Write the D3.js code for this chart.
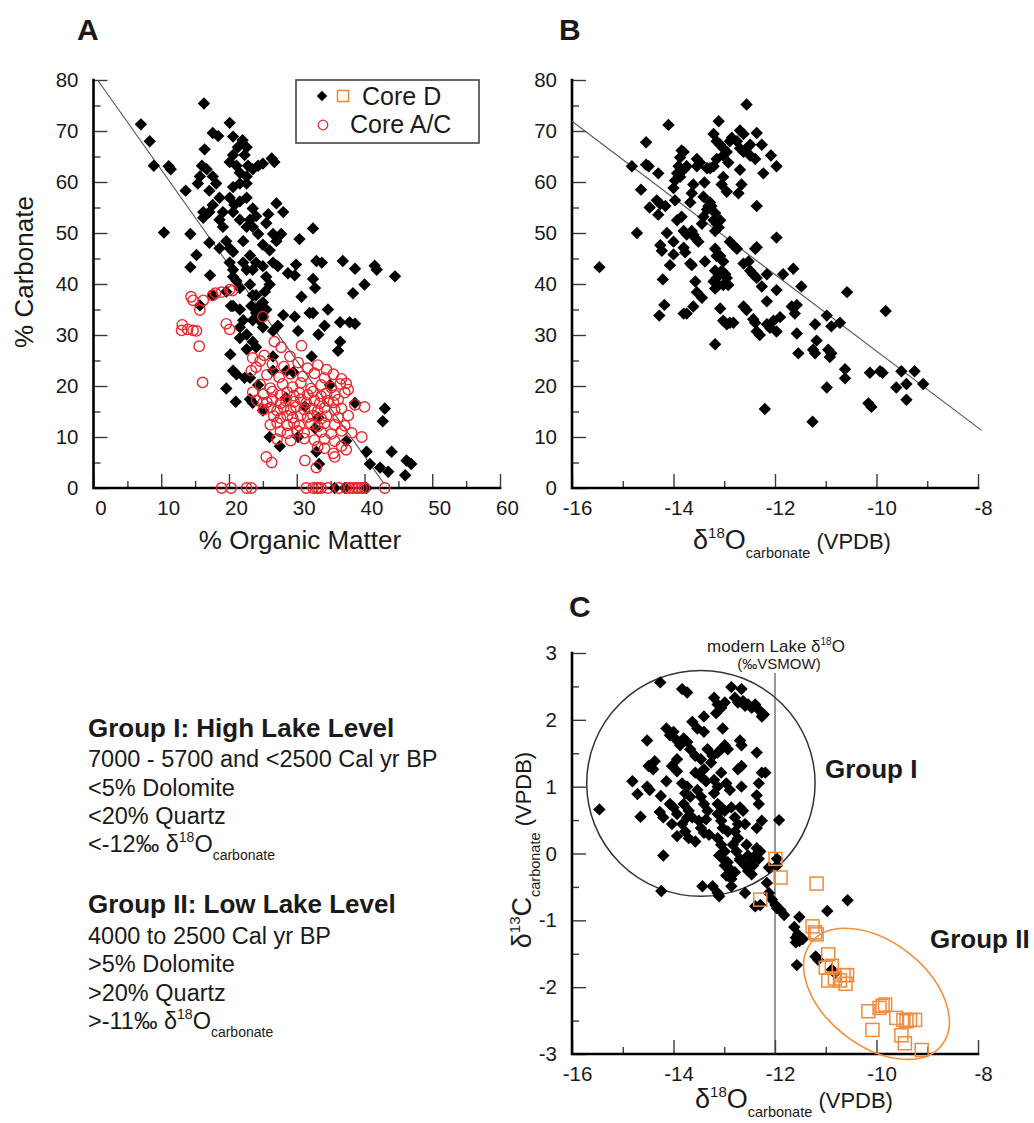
<!DOCTYPE html>
<html>
<head>
<meta charset="utf-8">
<script src="https://cdn.jsdelivr.net/npm/d3@7"></script>
<style>
  body { margin: 0; background: #fff; }
  svg { display: block; }
  text { font-family: "Liberation Sans", Arial, Helvetica, sans-serif; fill: #1a1a1a; }
</style>
</head>
<body>
<svg id="fig" width="1034" height="1123"></svg>
<script>

// ---- data: panel A (% organic matter vs % carbonate) ----
var aCoreD = [
  [7.0,71.3],[8.3,68.0],[8.9,63.2],[16.3,75.4],[11.1,63.1],[11.4,62.5],[13.6,58.3],[10.4,50.1],[14.3,49.8],[15.2,45.7],[14.3,43.3],[15.7,35.8],[17.2,41.7],[17.6,37.8],
  [16.0,63.2],[15.7,61.1],[15.4,59.7],[17.6,69.6],[18.4,69.0],[20.1,71.6],[16.4,66.4],
  [16.7,62.5],[17.6,61.1],[18.1,59.7],[17.1,58.3],[16.2,54.1],[16.2,53.0],[17.1,54.1],
  [18.6,56.9],[19.1,54.1],[19.1,51.2],[19.6,48.4],[17.1,48.1],[18.6,47.0],[20.1,47.0],[20.6,46.3],[20.1,44.2],
  [20.6,42.8],[21.1,40.6],[21.6,39.2],[20.6,41.4],[20.6,35.7],[21.6,35.0],[21.6,31.5],[22.6,30.1],[21.6,29.4],
  [20.2,26.2],[20.6,23.0],[21.1,22.3],[19.6,19.5],[23.1,21.6],[22.6,27.2],[23.5,28.7],[24.0,27.6],[25.0,31.5],
  [24.5,35.7],[25.0,36.4],[24.0,37.8],[23.1,17.4],[23.5,16.7],[24.3,20.2],[25.0,15.2],[26.5,25.8],[26.5,23.0],
  [26.0,10.0],[27.5,8.2],[28.4,17.7],[29.5,22.7],[30.2,10.0],[31.2,16.0],[32.2,25.8],[32.7,11.7],[33.2,13.8],
  [32.9,7.1],[33.3,4.7],[34.9,20.2],[35.6,0],[37.1,0],[37.3,9.2],[38.6,16.7],[40.3,7.1],[40.8,4.7],[42.3,4.0],[43.5,3.2],
  [40.3,0],[42.7,13.1],[43.0,15.6],[44.0,7.1],[46.0,2.5],[46.2,5.4],[46.9,4.7],
  [44.5,41.5],[41.5,43.6],[41.8,42.8],[40.0,39.9],[38.6,43.0],[36.8,44.5],[38.3,38.2],[37.8,32.5],[38.6,32.2],[36.4,32.5],
  [36.4,28.7],[36.1,26.9],[34.6,35.0],[34.1,31.8],[33.2,30.1],[32.4,34.3],[31.9,34.3],[32.7,39.2],[32.4,41.0],[32.9,44.5],
  [33.7,44.2],[32.4,50.9],[30.4,48.8],[29.9,43.8],[29.7,41.7],[28.7,42.1],[30.7,37.5],[30.2,30.8],[29.7,33.6],[28.0,33.9],
  [27.2,31.8],[25.5,35.0],
  [20.6,68.9],[21.3,66.8],[22.0,68.2],[22.6,66.8],[22.3,65.3],[20.6,65.3],[20.1,63.9],[21.1,63.2],[21.6,61.8],
  [22.8,63.2],[23.5,62.5],[24.3,63.2],[25.0,63.6],[26.3,64.6],[26.7,63.9],[22.6,61.1],[22.6,59.7],[20.6,59.0],[21.6,59.7],
  [20.1,56.9],[20.8,55.5],[21.6,56.2],[22.6,56.9],[23.5,54.8],[23.1,52.6],[24.0,53.3],[25.8,53.7],[25.5,51.9],
  [27.0,55.8],[28.0,54.1],[26.5,49.8],[27.0,48.4],[27.7,49.8],[25.0,47.7],[26.0,46.6],[24.3,49.8],[23.5,51.2],
  [23.1,45.6],[24.0,44.2],[23.5,42.8],[25.0,43.5],[25.5,41.4],[26.0,39.9],[25.3,38.5],[26.5,44.2],[27.2,43.5],
  [22.6,51.2],[22.1,48.4],[21.6,52.6],[20.6,54.1],[18.6,52.6],[17.6,55.5],[23.1,39.9],[23.5,37.8],[22.1,44.2],[22.6,42.8],
  [23.3,35.7],[24.0,34.3],[24.5,32.9],[22.1,32.9],[23.5,32.9],[25.0,33.6],[26.5,30.8],[19.6,38.5],[20.3,35.7],
  [22.3,21.6],[21.0,16.9],[28.5,23.0]
];

var aCoreAC = [
  [14.4,37.5],[14.7,36.8],[16.2,36.8],[18.0,38.2],[18.9,38.4],[20.1,38.9],[20.5,38.7],[13.1,32.0],[13.0,30.9],[13.9,31.1],
  [14.7,30.9],[15.2,30.8],[15.7,34.9],[15.6,27.8],[16.1,20.7],[19.6,32.2],[20.1,31.1],[17.6,37.8],
  [23.5,25.5],[24.0,23.7],[25.0,33.6],[26.7,28.7],[27.7,27.6],[30.7,27.9],[29.0,25.8],[25.5,6.1],[26.3,5.0],[31.2,5.4],
  [32.9,4.0],[37.3,7.5],[35.6,6.1],[35.4,6.8],[38.6,16.3],[40.0,15.9],[37.3,20.5],[39.6,10.0],[25.2,26.0],[24.6,24.9],
  [18.9,0],[20.3,0],[22.6,0],[23.3,0],[31.4,0],[32.4,0],[32.9,0],[33.2,0],[33.6,0],[34.6,0],[36.2,0],[37.3,0],[37.8,0],
  [38.3,0],[38.8,0],[39.1,0],[39.6,0],[40.0,0],[43.0,0],
  [23.3,23.0],[23.5,18.8],[25.0,16.7],
  [26.4,24.3],[28.1,23.8],[30.2,24.6],[31.6,23.5],[33.1,24.1],[34.4,23.2],
  [25.6,22.2],[27.4,21.7],[29.1,22.4],[30.9,21.9],[32.6,22.5],[34.1,21.6],[35.4,22.3],[36.6,21.4],
  [24.6,20.3],[26.1,19.6],[27.9,20.4],[29.4,19.8],[30.6,20.6],[32.1,19.5],[33.6,20.2],[35.1,19.7],[36.4,20.4],[37.6,19.3],
  [25.1,18.4],[26.4,18.9],[27.6,18.2],[28.6,18.8],[29.6,18.1],[30.4,18.7],[31.6,18.3],[32.4,18.9],[33.6,18.0],[34.4,18.6],[35.6,18.2],[37.1,18.7],
  [24.1,17.2],[25.6,16.8],[26.4,17.3],[27.6,16.6],[28.4,17.1],[29.6,16.9],[30.6,17.4],[31.4,16.7],[32.6,17.2],[33.4,16.6],[34.6,17.1],[35.4,16.8],[36.1,17.3],
  [25.1,15.4],[26.1,15.8],[27.1,15.2],[28.1,15.7],[29.1,15.3],[29.9,15.9],[31.1,15.4],[32.1,15.6],[33.1,15.1],[34.1,15.7],[35.6,15.3],[36.6,15.6],
  [26.6,14.1],[27.6,13.7],[28.6,14.2],[29.4,13.8],[30.6,14.3],[31.6,13.9],[32.4,14.2],[33.6,13.6],[34.4,14.1],[36.1,13.8],[37.6,14.2],
  [26.1,12.4],[27.1,12.8],[28.6,12.3],[29.6,12.7],[30.4,12.2],[32.1,12.6],[33.1,12.1],[34.1,12.7],[35.6,12.4],[37.1,12.2],
  [27.6,11.1],[28.6,10.7],[30.1,11.2],[31.1,10.8],[33.6,11.0],[35.1,10.6],[36.6,11.2],[38.1,10.8],
  [27.1,9.6],[29.1,9.3],[31.1,9.7],[32.6,9.4],[34.1,9.6],[35.6,9.2],
  [33.1,8.1],[34.1,7.8],[36.6,8.2]
];
var aFitLine = [[0.6, 80.0], [42.8, 1.0]];

// ---- data: panel B (d18O vs % carbonate) ----
var bCoreD = [
  [-15.46,43.3],[-14.82,63.1],[-14.64,58.5],[-14.72,50.0],[-14.54,67.8],[-14.54,63.4],[-14.49,63.1],[-14.47,55.0],[-14.33,56.4],
  [-14.26,55.7],[-14.16,55.3],[-14.30,61.7],[-14.10,71.2],[-14.30,53.6],[-14.26,47.6],[-14.23,46.5],[-14.21,40.9],[-14.18,35.9],
  [-14.28,33.8],[-14.07,43.7],[-14.00,48.3],[-14.00,45.8],[-13.93,52.5],
  [-14.00,58.8],[-13.97,60.3],[-13.93,61.7],[-13.90,63.1],[-13.87,64.8],[-13.84,66.2],[-13.80,65.9],[-13.87,61.0],[-13.80,62.4],
  [-13.74,63.1],[-13.84,53.2],[-13.80,50.4],[-13.74,49.7],[-13.80,47.1],[-13.77,46.2],[-13.67,44.0],[-13.64,43.7],[-13.80,34.2],
  [-13.74,34.2],[-13.64,50.4],[-13.61,49.7],[-13.67,56.0],[-13.64,57.8],[-13.54,64.5],[-13.48,63.8],[-13.54,63.1],[-13.57,49.0],
  [-13.51,48.3],[-13.57,40.5],[-13.54,38.4],[-13.61,35.6],[-13.44,37.3],[-13.44,51.8],[-13.41,53.2],[-13.34,54.6],[-13.31,55.3],
  [-13.39,59.9],[-13.34,62.7],[-13.28,62.7],[-13.21,63.1],[-13.28,56.0],[-13.25,55.3],[-13.18,53.9],[-13.21,52.5],[-13.15,51.8],
  [-13.11,51.1],[-13.18,50.4],[-13.38,44.4],[-13.08,52.5],[-13.18,46.9],[-13.15,45.5],[-13.18,42.6],[-13.15,41.2],[-13.21,40.5],
  [-13.11,39.8],[-13.18,39.1],[-13.08,45.5],[-13.02,44.4],[-13.05,42.6],[-12.98,41.9],[-12.95,41.2],[-13.02,39.8],[-12.92,39.8],
  [-13.18,28.2],[-13.08,35.2],[-13.02,32.8],[-12.95,32.1],[-12.89,32.4],[-12.82,32.4],[-13.11,71.9],[-13.21,69.4],[-13.15,68.0],
  [-13.08,67.3],[-13.02,66.6],[-13.15,64.5],[-13.02,65.2],[-12.95,65.9],[-12.92,63.8],[-12.89,68.0],[-13.02,61.0],[-12.95,58.1],
  [-12.85,68.7],[-12.75,68.0],[-12.69,70.1],[-12.62,69.4],[-12.69,66.6],[-12.62,65.9],[-12.56,66.6],[-12.49,67.3],[-12.56,75.2],
  [-12.69,62.4],[-12.66,59.5],[-12.72,57.8],[-12.49,65.2],[-12.39,64.5],[-12.36,69.6],[-12.26,67.3],[-12.23,61.7],[-12.36,55.3],
  [-12.08,65.2],[-11.97,63.1],[-11.97,49.1],[-12.89,48.3],[-12.82,47.6],[-12.75,46.9],[-12.62,44.0],[-12.52,44.4],[-12.49,42.6],
  [-12.39,46.9],[-12.36,47.2],[-12.43,41.9],[-12.36,41.2],[-12.16,41.9],[-12.26,39.5],[-12.16,36.6],[-12.62,35.6],[-12.56,34.9],
  [-12.43,33.1],[-12.39,32.4],[-12.36,30.7],[-12.30,30.0],[-12.16,32.1],[-12.10,31.4],[-12.03,32.8],[-11.97,30.7],[-11.90,33.5],
  [-11.97,38.8],[-12.20,15.5],[-11.84,41.9],[-11.64,43.0],[-11.48,39.5],[-11.67,35.6],[-11.57,35.9],[-11.61,34.2],[-11.57,30.3],
  [-11.54,26.4],[-11.25,27.1],[-11.21,26.4],[-11.21,32.1],[-11.18,28.9],[-11.26,13.0],[-10.98,33.8],[-10.95,27.1],[-10.92,25.7],
  [-10.89,26.4],[-10.98,19.7],[-10.89,31.7],[-10.72,32.4],[-10.62,23.3],[-10.62,21.5],[-10.58,38.4],[-10.13,22.6],[-9.93,22.9],
  [-9.88,22.6],[-10.16,16.6],[-10.10,15.9],[-9.82,34.7],[-9.61,19.7],[-9.51,22.9],[-9.41,20.4],[-9.41,17.3],[-9.25,22.9],
  [-9.08,20.4],[-13.97,56.4],[-14.13,50.0],[-13.61,59.5],[-13.41,57.1],[-13.05,59.5]
];
var bFitLine = [[-16, 71.9], [-7.93, 11.3]];

// ---- data: panel C (d18O vs d13C) ----
var cCoreD = [
  [-15.46,0.66],[-14.81,1.08],[-14.71,0.89],[-14.65,0.55],[-14.52,1.69],[-14.52,1.00],[-14.47,0.95],[-14.49,1.31],[-14.40,1.26],
  [-14.37,1.38],[-14.26,2.56],[-14.25,0.86],[-14.27,0.62],[-14.20,0.54],[-14.20,-0.03],[-14.24,-0.56],[-14.14,1.87],[-14.07,1.77],
  [-14.00,1.82],[-14.14,1.08],[-14.03,1.31],[-13.93,1.41],[-13.93,1.23],[-13.93,1.69],[-13.87,1.62],[-13.80,1.72],[-14.07,0.74],
  [-14.00,0.69],[-13.93,0.59],[-13.93,0.26],[-13.83,2.46],[-13.73,2.41],[-13.83,1.05],[-13.73,1.00],[-13.77,0.90],[-13.67,0.85],
  [-13.80,0.74],[-13.70,0.64],[-13.63,0.54],[-13.73,0.54],[-13.70,0.23],[-13.57,0.18],[-13.63,1.97],[-13.53,1.87],[-13.73,1.67],
  [-13.67,1.56],[-13.57,1.46],[-13.46,1.41],[-13.57,1.21],[-13.46,1.15],[-13.40,1.26],[-13.36,1.08],[-13.53,0.95],[-13.46,0.85],
  [-13.40,0.74],[-13.33,0.64],[-13.36,0.51],[-13.50,0.49],[-13.43,-0.49],[-13.40,1.82],[-13.33,1.56],[-13.26,1.36],[-13.20,2.33],
  [-13.13,2.23],[-13.06,2.18],[-13.16,2.10],[-12.99,2.26],[-13.23,-0.49],[-13.13,-0.59],[-13.10,-0.64],[-13.20,1.10],[-13.13,1.00],
  [-13.20,0.90],[-13.13,0.74],[-13.06,0.69],[-13.13,0.59],[-12.99,0.64],[-13.06,0.49],[-13.03,0.38],[-12.93,0.33],[-13.13,0.23],
  [-13.06,0.13],[-12.99,0.03],[-13.10,-0.03],[-13.03,-0.08],[-12.93,-0.13],[-12.99,-0.18],[-12.89,-0.23],[-12.79,-0.28],[-13.23,1.46],
  [-13.13,1.51],[-13.06,1.56],[-12.99,1.62],[-12.93,1.56],[-13.03,1.87],[-13.06,1.21],[-12.96,1.05],[-12.89,0.95],[-12.86,0.69],
  [-12.79,0.54],[-12.73,0.44],[-12.79,0.33],[-12.73,0.23],[-12.83,0.13],[-12.76,0.03],[-12.69,-0.08],[-12.86,2.49],[-12.79,2.33],
  [-12.66,2.46],[-12.73,2.26],[-12.63,2.28],[-12.59,2.21],[-12.53,2.23],[-12.46,2.18],[-12.39,2.23],[-12.32,2.15],[-12.26,2.05],
  [-12.22,2.08],[-12.73,1.26],[-12.66,1.31],[-12.66,1.00],[-12.69,0.69],[-12.63,0.64],[-12.59,0.44],[-12.56,0.13],[-12.53,-0.03],
  [-12.69,-0.10],[-12.59,-0.18],[-12.49,-0.13],[-12.43,-0.18],[-12.53,-0.26],[-12.46,-0.31],[-12.39,-0.03],[-12.36,0.08],[-12.29,0.03],
  [-12.32,-0.08],[-12.36,1.51],[-12.32,1.05],[-12.26,1.21],[-12.36,0.87],[-12.32,0.74],[-12.26,0.49],[-12.36,0.38],[-12.19,1.21],
  [-12.12,-0.21],[-11.92,0.50],[-12.59,-0.59],[-12.39,-0.79],[-12.29,-0.77],[-12.16,-0.44],[-12.12,-0.59],[-12.06,-0.69],[-11.99,-0.77],
  [-11.96,-0.82],[-11.89,-0.85],[-11.96,-0.08],[-11.96,-0.18],[-11.82,-0.92],[-11.62,-1.10],[-11.52,-0.95],[-11.59,-1.26],[-11.52,-1.31],
  [-11.55,-1.21],[-11.45,-1.28],[-11.59,-1.33],[-10.97,-0.86],[-10.57,-0.70],[-11.57,-1.67],[-11.20,-1.54],[-11.15,-1.59],[-10.82,-1.79],
  [-10.88,-1.74],[-12.69,1.69],[-12.66,1.62],[-13.40,2.05],[-14.03,0.44],[-13.83,0.44],[-13.77,0.33],[-13.46,0.38],[-13.40,0.31],
  [-13.30,0.28],[-12.96,-0.33],[-12.86,-0.38],[-12.86,-0.49]
];
var cCoreDOpen = [
  [-11.99,-0.08],[-11.89,-0.36],[-11.18,-0.45],[-12.29,-0.69],[-11.26,-1.09],[-11.21,-1.18],[-11.18,-1.21],[-10.95,-1.51],
  [-11.00,-1.71],[-10.88,-1.68],[-10.65,-1.82],[-10.58,-1.82],[-10.95,-1.90],[-10.82,-1.87],[-10.72,-1.90],[-10.61,-1.95],
  [-10.16,-2.36],[-10.08,-2.64],[-9.94,-2.31],[-9.88,-2.28],[-9.83,-2.26],[-9.61,-2.46],[-9.47,-2.49],[-9.41,-2.51],
  [-9.34,-2.49],[-9.24,-2.49],[-9.51,-2.72],[-9.44,-2.84],[-9.11,-2.94]
];
var modernLakeO = -12;
var modernLakeTop = 2.7;
var groupOneRing = { cx: -13.46, cy: 1.05, rx: 2.25, ry: 1.69 };
var groupTwoRing = { cx: -10.0, cy: -2.1 };

// ---- ticks ----
var omTicks = [0, 10, 20, 30, 40, 50, 60];
var omMinor = [5, 15, 25, 35, 45, 55];
var carbTicks = [0, 10, 20, 30, 40, 50, 60, 70, 80];
var carbMinor = [5, 15, 25, 35, 45, 55, 65, 75];
var oTicks = [-16, -14, -12, -10, -8];
var oMinor = [-15, -13, -11, -9];
var cTicks = [-3, -2, -1, 0, 1, 2, 3];
var cMinor = [-2.5, -1.5, -0.5, 0.5, 1.5, 2.5];

// ---- text block ----
var groupOneTitle = 'Group I: High Lake Level';
var groupOneLines = ['7000 - 5700 and <2500 Cal yr BP', '<5% Dolomite', '<20% Quartz'];
var groupOneIso = '<-12\u2030 \u03b4';
var groupTwoTitle = 'Group II: Low Lake Level';
var groupTwoLines = ['4000 to 2500 Cal yr BP', '>5% Dolomite', '>20% Quartz'];
var groupTwoIso = '>-11\u2030 \u03b4';


var svg = d3.select('#fig');

var xA = d3.scaleLinear().domain([0, 60]).range([93.5, 500]);
var yA = d3.scaleLinear().domain([0, 80]).range([488, 80]);
var xB = d3.scaleLinear().domain([-16, -8]).range([572, 978]);
var yB = d3.scaleLinear().domain([0, 80]).range([488, 80]);
var xC = d3.scaleLinear().domain([-16, -8]).range([572, 978]);
var yC = d3.scaleLinear().domain([-3, 3]).range([1054, 653]);

var diamondPath = 'M0,-6.2L6.2,0L0,6.2L-6.2,0Z';
var legendDiamond = 'M0,-5.2L5.2,0L0,5.2L-5.2,0Z';

function drawAxes (x, y, xMajor, xMinor, yMajor, yMinor, xShift) {
  var g = svg.append('g');
  var y0 = y.range()[0], x0 = x.range()[0];

  function style (sel) {
    sel.select('.domain').remove();
    sel.selectAll('line').attr('stroke', '#3a3a3a').attr('stroke-width', 1.4);
    sel.selectAll('text').attr('font-size', 20.5).attr('fill', '#1a1a1a')
      .attr('font-family', '"Liberation Sans", Arial, sans-serif');
  }

  g.append('g').attr('transform', 'translate(0,' + y0 + ')')
    .call(d3.axisBottom(x).tickValues(xMinor).tickSize(-7).tickFormat(''))
    .call(style);
  g.append('g').attr('transform', 'translate(' + x0 + ',0)')
    .call(d3.axisLeft(y).tickValues(yMinor).tickSize(-7).tickFormat(''))
    .call(style);

  g.append('g').attr('transform', 'translate(0,' + y0 + ')')
    .call(d3.axisBottom(x).tickValues(xMajor).tickSize(-14).tickPadding(12).tickFormat(function (d) { return String(d); }))
    .call(style)
    .selectAll('text').attr('dx', xShift);
  g.append('g').attr('transform', 'translate(' + x0 + ',0)')
    .call(d3.axisLeft(y).tickValues(yMajor).tickSize(-14).tickPadding(15).tickFormat(function (d) { return String(d); }))
    .call(style);

  // heavy axis lines
  g.append('path')
    .attr('d', 'M' + x0 + ',' + y.range()[1] + 'V' + y0 + 'H' + x.range()[1])
    .attr('fill', 'none').attr('stroke', '#000').attr('stroke-width', 2.6)
    .attr('stroke-linecap', 'square');
}

function fitLine (x, y, pts) {
  svg.append('line')
    .attr('x1', x(pts[0][0])).attr('y1', y(pts[0][1]))
    .attr('x2', x(pts[1][0])).attr('y2', y(pts[1][1]))
    .attr('stroke', '#555').attr('stroke-width', 1.1);
}

function diamonds (x, y, pts) {
  svg.append('g').selectAll('path').data(pts).enter().append('path')
    .attr('d', diamondPath)
    .attr('transform', function (d) { return 'translate(' + x(d[0]) + ',' + y(d[1]) + ')'; })
    .attr('fill', '#000');
}

function panelLetter (txt, x, y) {
  svg.append('text').attr('x', x).attr('y', y).attr('font-size', 30).attr('font-weight', 'bold').text(txt);
}

// delta label: big letters, small superscript, subscript "carbonate", then (VPDB)
function isoLabel (t, sup, letter) {
  t.append('tspan').attr('font-size', 27).text('\u03b4');
  t.append('tspan').attr('font-size', 15).attr('dy', -11).text(sup);
  t.append('tspan').attr('font-size', 27).attr('dy', 11).text(letter);
  t.append('tspan').attr('font-size', 14.5).attr('dy', 9).text('carbonate');
  t.append('tspan').attr('font-size', 22).attr('dy', -9).text('\u00a0(VPDB)');
}

/* ---------- panel A ---------- */
drawAxes(xA, yA, omTicks, omMinor, carbTicks, carbMinor, 7);
fitLine(xA, yA, aFitLine);
diamonds(xA, yA, aCoreD);
svg.append('g').selectAll('circle').data(aCoreAC).enter().append('circle')
  .attr('cx', function (d) { return xA(d[0]); })
  .attr('cy', function (d) { return yA(d[1]); })
  .attr('r', 5.2)
  .attr('fill', 'none').attr('stroke', '#e8282c').attr('stroke-width', 1.4);

panelLetter('A', 77, 40);
svg.append('text').attr('x', 300).attr('y', 549).attr('text-anchor', 'middle')
  .attr('font-size', 26).text('% Organic Matter');
svg.append('text').attr('transform', 'translate(33,272) rotate(-90)').attr('text-anchor', 'middle')
  .attr('font-size', 26).text('% Carbonate');

// legend
var leg = svg.append('g');
leg.append('rect').attr('x', 296).attr('y', 80).attr('width', 183).attr('height', 63)
  .attr('fill', '#fff').attr('stroke', '#444').attr('stroke-width', 1.6);
leg.append('path').attr('d', legendDiamond).attr('transform', 'translate(322,96)').attr('fill', '#000');
leg.append('rect').attr('x', 337.5).attr('y', 90.5).attr('width', 11).attr('height', 11)
  .attr('fill', 'none').attr('stroke', '#f08a3c').attr('stroke-width', 1.6);
leg.append('text').attr('x', 362).attr('y', 105).attr('font-size', 25).text('Core D');
leg.append('circle').attr('cx', 323).attr('cy', 125).attr('r', 4.8)
  .attr('fill', 'none').attr('stroke', '#e8282c').attr('stroke-width', 1.3);
leg.append('text').attr('x', 350).attr('y', 133).attr('font-size', 25).text('Core A/C');

/* ---------- panel B ---------- */
drawAxes(xB, yB, oTicks, oMinor, carbTicks, carbMinor, 5);
fitLine(xB, yB, bFitLine);
diamonds(xB, yB, bCoreD);
panelLetter('B', 559, 40);
isoLabel(svg.append('text').attr('x', 792).attr('y', 549).attr('text-anchor', 'middle'), '18', 'O');

/* ---------- panel C ---------- */
drawAxes(xC, yC, oTicks, oMinor, cTicks, cMinor, 5);

svg.append('line')
  .attr('x1', xC(modernLakeO)).attr('x2', xC(modernLakeO))
  .attr('y1', yC(-3)).attr('y2', yC(modernLakeTop))
  .attr('stroke', '#444').attr('stroke-width', 1.1);

svg.append('ellipse')
  .attr('cx', xC(groupOneRing.cx)).attr('cy', yC(groupOneRing.cy))
  .attr('rx', xC(groupOneRing.cx + groupOneRing.rx) - xC(groupOneRing.cx))
  .attr('ry', yC(groupOneRing.cy) - yC(groupOneRing.cy + groupOneRing.ry))
  .attr('fill', 'none').attr('stroke', '#333').attr('stroke-width', 1.5);

svg.append('ellipse')
  .attr('transform', 'translate(' + xC(groupTwoRing.cx) + ',' + yC(groupTwoRing.cy) + ') rotate(38)')
  .attr('rx', 83).attr('ry', 52)
  .attr('fill', 'none').attr('stroke', '#f0913f').attr('stroke-width', 1.6);

diamonds(xC, yC, cCoreD);
svg.append('g').selectAll('rect').data(cCoreDOpen).enter().append('rect')
  .attr('x', function (d) { return xC(d[0]) - 6.5; })
  .attr('y', function (d) { return yC(d[1]) - 6.5; })
  .attr('width', 13).attr('height', 13)
  .attr('fill', 'none').attr('stroke', '#f08a3c').attr('stroke-width', 1.5);

panelLetter('C', 569, 617);

var ml = svg.append('text').attr('x', 776).attr('y', 652).attr('text-anchor', 'middle').attr('font-size', 17);
ml.append('tspan').text('modern Lake \u03b4');
ml.append('tspan').attr('font-size', 10).attr('dy', -7).text('18');
ml.append('tspan').attr('dy', 7).text('O');
svg.append('text').attr('x', 779).attr('y', 669).attr('text-anchor', 'middle').attr('font-size', 15).text('(\u2030VSMOW)');

svg.append('text').attr('x', 825).attr('y', 778).attr('font-size', 26).attr('font-weight', 'bold').text('Group I');
svg.append('text').attr('x', 930).attr('y', 948).attr('font-size', 26).attr('font-weight', 'bold').text('Group II');

isoLabel(svg.append('text').attr('x', 794).attr('y', 1108).attr('text-anchor', 'middle'), '18', 'O');
isoLabel(svg.append('text').attr('transform', 'translate(531,850) rotate(-90)').attr('text-anchor', 'middle'), '13', 'C');

/* ---------- text block ---------- */
function groupBlock (title, lines, iso, top) {
  var g = svg.append('g');
  g.append('text').attr('x', 88).attr('y', top).attr('font-size', 26).attr('font-weight', 'bold').text(title);
  var base = top + 30.6;
  lines.forEach(function (l, i) {
    g.append('text').attr('x', 88).attr('y', base + i * 28.3).attr('font-size', 23.5).text(l);
  });
  var t = g.append('text').attr('x', 88).attr('y', base + lines.length * 28.3).attr('font-size', 23.5);
  t.append('tspan').text(iso);
  t.append('tspan').attr('font-size', 14).attr('dy', -10).text('18');
  t.append('tspan').attr('dy', 10).text('O');
  t.append('tspan').attr('font-size', 14).attr('dy', 8).text('carbonate');
}
groupBlock(groupOneTitle, groupOneLines, groupOneIso, 736.7);
groupBlock(groupTwoTitle, groupTwoLines, groupTwoIso, 913.3);

</script>
</body>
</html>
